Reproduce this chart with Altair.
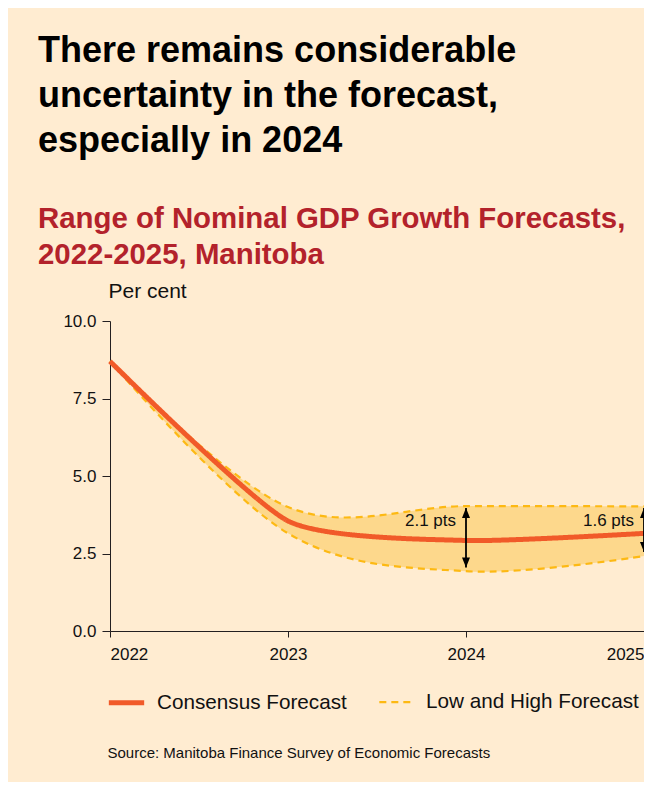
import altair as alt
import pandas as pd

# ---- data ----
years = [2022, 2023, 2024, 2025]
consensus = [8.7, 3.55, 2.92, 3.15]
low = [8.7, 3.15, 1.93, 2.42]
high = [8.7, 4.0, 4.03, 4.02]

arrow_years = [2024, 2025]
arrow_low = [2.05, 2.55]
arrow_high = [3.97, 3.97]
arrow_labels = ["2.1 pts", "1.6 pts"]
label_level = [3.55, 3.55]

y_ticks = [0, 2.5, 5, 7.5, 10]

SERIES = ["Consensus Forecast", "Low and High Forecast"]
RED = "#F15A29"
GOLD = "#FDB913"
BAND = "#FDD88C"
BG = "#FFECD1"
FONT = "Liberation Sans"

band_df = pd.DataFrame({"year": years, "low": low, "high": high})
cons_df = pd.DataFrame(
    {"year": years, "value": consensus, "series": [SERIES[0]] * 4, "line": ["c"] * 4}
)
range_df = pd.DataFrame(
    {
        "year": years * 2,
        "value": low + high,
        "series": [SERIES[1]] * 8,
        "line": ["l"] * 4 + ["h"] * 4,
    }
)
arrow_df = pd.DataFrame(
    {"year": arrow_years, "low": arrow_low, "high": arrow_high,
     "label": arrow_labels, "lvl": label_level}
)

xscale = alt.Scale(domain=[2022, 2025], nice=False, zero=False)
yscale = alt.Scale(domain=[0, 10], nice=False)

x_enc = alt.X(
    "year:Q",
    scale=xscale,
    axis=alt.Axis(
        values=years, format="d", labelFlush=True, grid=False,
        tickSize=6, labelPadding=9, labelFontSize=17, labelFont=FONT,
        labelColor="#111", domainColor="#231F20", tickColor="#231F20",
        title="Source: Manitoba Finance Survey of Economic Forecasts",
        titleFont=FONT, titleFontSize=15, titleFontWeight="normal",
        titleColor="#111", titleAnchor="start", titleAlign="left",
        titleBaseline="alphabetic", titleX=-3, titleY=126,
    ),
)
y_enc = alt.Y(
    "low:Q",
    scale=yscale,
    axis=alt.Axis(
        values=y_ticks, format=".1f", grid=False, tickSize=8, labelPadding=6,
        labelFontSize=17, labelFont=FONT, labelColor="#111",
        domainColor="#231F20", tickColor="#231F20",
        title="Per cent", titleAngle=0, titleAlign="left",
        titleBaseline="alphabetic", titleX=-2, titleY=-24,
        titleFont=FONT, titleFontSize=21, titleFontWeight="normal",
        titleColor="#111",
    ),
)

color_enc = alt.Color(
    "series:N",
    scale=alt.Scale(domain=SERIES, range=[RED, GOLD]),
    legend=alt.Legend(
        title=None, orient="none", legendX=-4, legendY=361,
        direction="horizontal", symbolType="stroke", symbolSize=1250,
        labelFont=FONT, labelFontSize=20.7, labelColor="#111",
        labelLimit=500, labelOffset=10, columnPadding=27,
    ),
)
dash_enc = alt.StrokeDash(
    "series:N",
    scale=alt.Scale(domain=SERIES, range=[[1, 0], [7, 5]]),
    legend=None,
)
width_enc = alt.StrokeWidth(
    "series:N",
    scale=alt.Scale(domain=SERIES, range=[5, 2.2]),
    legend=None,
)

band = alt.Chart(band_df).mark_area(
    interpolate="cardinal", tension=0, color=BAND, opacity=1
).encode(x=x_enc, y=y_enc, y2="high:Q")

range_lines = alt.Chart(range_df).mark_line(interpolate="cardinal", tension=0).encode(
    x=alt.X("year:Q", scale=xscale),
    y=alt.Y("value:Q", scale=yscale),
    detail="line:N",
    color=color_enc,
    strokeDash=dash_enc,
    strokeWidth=width_enc,
)

cons_line = alt.Chart(cons_df).mark_line(interpolate="cardinal", tension=0.4).encode(
    x=alt.X("year:Q", scale=xscale),
    y=alt.Y("value:Q", scale=yscale),
    detail="line:N",
    color=color_enc,
    strokeDash=dash_enc,
    strokeWidth=width_enc,
)

arrow_rule = alt.Chart(arrow_df).mark_rule(color="#000", strokeWidth=1.8).encode(
    x=alt.X("year:Q", scale=xscale), y=alt.Y("low:Q", scale=yscale), y2="high:Q"
)
head_up = alt.Chart(arrow_df).mark_point(
    shape="M0,0L-0.5,1.25L0.5,1.25Z", filled=True, color="#000", size=256, opacity=1
).encode(x=alt.X("year:Q", scale=xscale), y=alt.Y("high:Q", scale=yscale))
head_down = alt.Chart(arrow_df).mark_point(
    shape="M0,0L-0.5,-1.25L0.5,-1.25Z", filled=True, color="#000", size=256, opacity=1
).encode(x=alt.X("year:Q", scale=xscale), y=alt.Y("low:Q", scale=yscale))
arrow_text = alt.Chart(arrow_df).mark_text(
    align="right", baseline="middle", dx=-10, font=FONT, fontSize=17, color="#111"
).encode(x=alt.X("year:Q", scale=xscale), y=alt.Y("lvl:Q", scale=yscale), text="label:N")

chart = (
    alt.layer(band, range_lines, cons_line, arrow_rule, head_up, head_down, arrow_text)
    .properties(
        width=534,
        height=310,
        padding={"left": 102, "top": 313, "right": 0, "bottom": 151},
        autosize=alt.AutoSizeParams(type="none"),
        background=BG,
        title=alt.TitleParams(
            text=["There remains considerable", "uncertainty in the forecast,",
                  "especially in 2024"],
            subtitle=["Range of Nominal GDP Growth Forecasts,", "2022-2025, Manitoba"],
            anchor="start", frame="group", dx=-72, dy=30,
            font=FONT, fontSize=36, fontWeight="bold", color="#000",
            lineHeight=45,
            subtitleFont=FONT, subtitleFontSize=29.4, subtitleFontWeight="bold",
            subtitleColor="#B3222B", subtitleLineHeight=36, subtitlePadding=45,
            offset=40,
        ),
    )
    .configure_view(stroke=None)
)

chart.save("out.html", embed_options={"renderer": "svg", "actions": False})
